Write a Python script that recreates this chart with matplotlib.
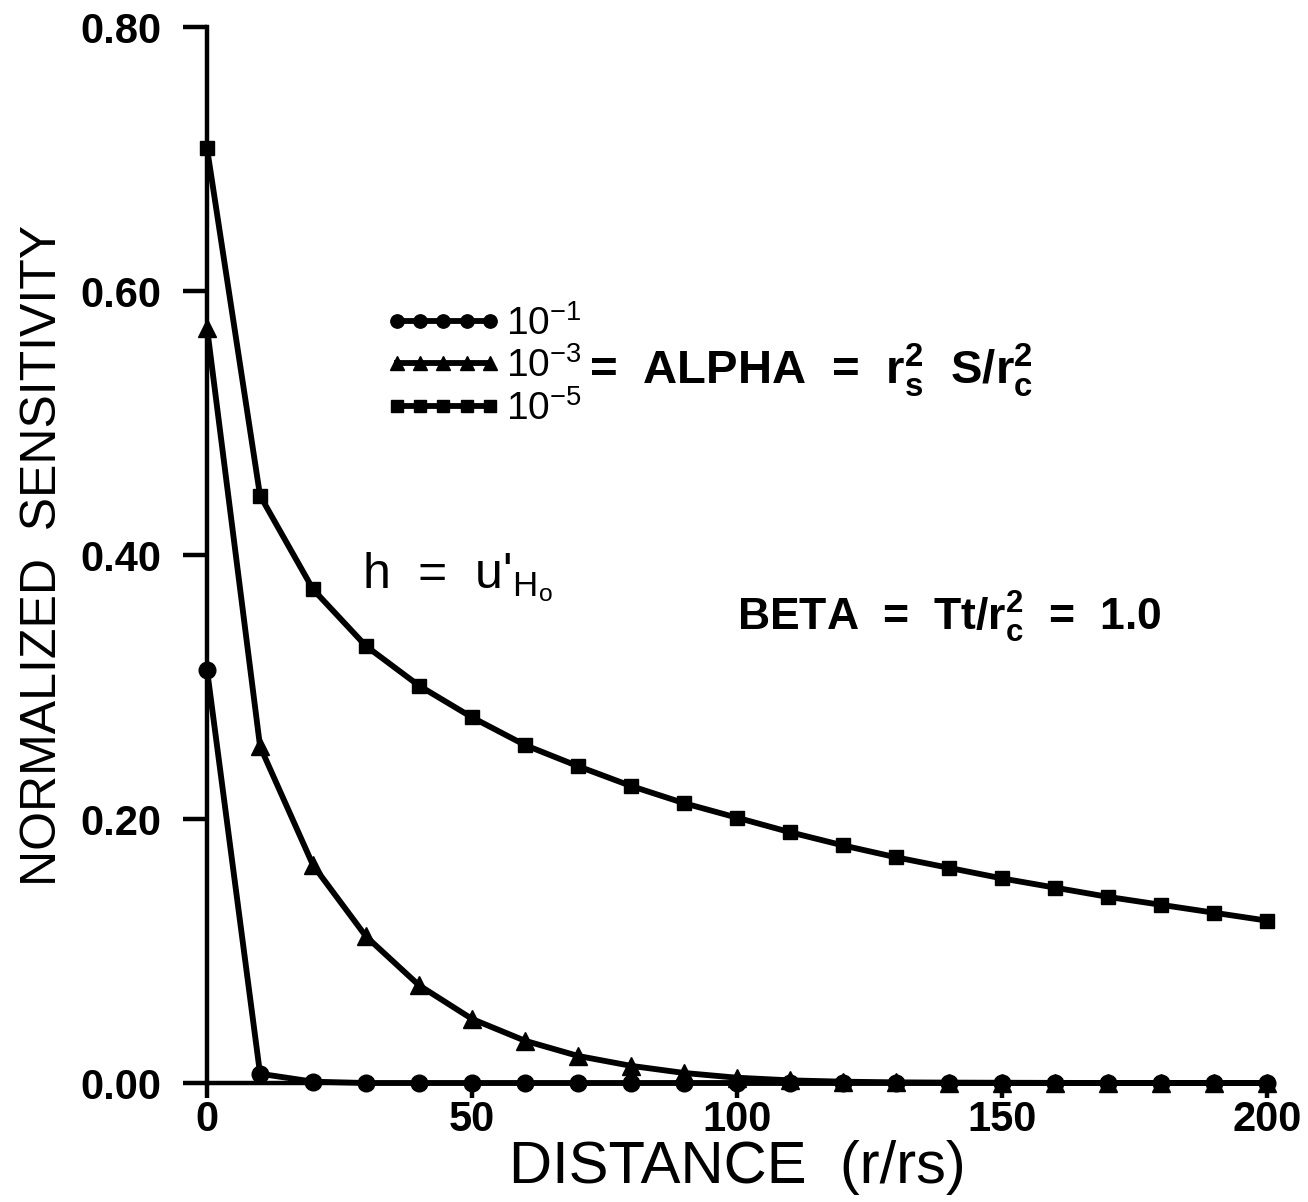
import matplotlib
matplotlib.use('Agg')
import matplotlib.pyplot as plt
import numpy as np

#----------------------------------------------------------------------------------------------------
# data
#----------------------------------------------------------------------------------------------------
distance = [0, 10, 20, 30, 40, 50, 60, 70, 80, 90, 100,
            110, 120, 130, 140, 150, 160, 170, 180, 190, 200]

# alpha = 1e-1 (circles)
sens_a1 = [0.313, 0.007, 0.001, 0.0, 0.0, 0.0, 0.0, 0.0, 0.0, 0.0, 0.0,
           0.0, 0.0, 0.0, 0.0, 0.0, 0.0, 0.0, 0.0, 0.0, 0.0]
# alpha = 1e-3 (triangles)
sens_a3 = [0.572, 0.255, 0.165, 0.111, 0.074, 0.0485, 0.032, 0.0205, 0.0130, 0.0076, 0.0040,
           0.002, 0.001, 0.0005, 0.0003, 0.0002, 0.0001, 0.0, 0.0, 0.0, 0.0]
# alpha = 1e-5 (squares)
sens_a5 = [0.708, 0.445, 0.374, 0.331, 0.301, 0.277, 0.256, 0.240, 0.225, 0.212, 0.201,
           0.190, 0.180, 0.171, 0.163, 0.155, 0.148, 0.141, 0.135, 0.129, 0.123]

series_labels = [r'$10^{-1}$', r'$10^{-3}$', r'$10^{-5}$']
xticks = [0, 50, 100, 150, 200]
yticks = [0.0, 0.2, 0.4, 0.6, 0.8]

#----------------------------------------------------------------------------------------------------
# style
#----------------------------------------------------------------------------------------------------
plt.rcParams['font.family'] = ['Liberation Sans', 'DejaVu Sans']
plt.rcParams['mathtext.fontset'] = 'custom'
plt.rcParams['mathtext.rm'] = 'Liberation Sans'
plt.rcParams['mathtext.it'] = 'Liberation Sans'
plt.rcParams['mathtext.bf'] = 'Liberation Sans:bold'

fig = plt.figure(figsize=(13.08, 12.02), dpi=100)
ax = fig.add_axes([0.1583, 0.0990, 0.8104, 0.8785])

lw = 4.2
ax.plot(distance, sens_a1, color='black', lw=lw, marker='o', ms=12, clip_on=False,
        label=series_labels[0])
ax.plot(distance, sens_a3, color='black', lw=lw, marker='^', ms=13, clip_on=False,
        label=series_labels[1])
ax.plot(distance, sens_a5, color='black', lw=lw, marker='s', ms=10.5, clip_on=False,
        label=series_labels[2])

# axes
ax.set_xlim(0, 200)
ax.set_ylim(0, 0.8)
ax.set_xticks(xticks)
ax.set_yticks(yticks)
ax.set_yticklabels(['%.2f' % v for v in yticks])
for side in ['top', 'right']:
    ax.spines[side].set_visible(False)
for side in ['left', 'bottom']:
    ax.spines[side].set_linewidth(3.2)
ax.tick_params(axis='y', direction='out', length=17, width=3.2, pad=16, labelsize=30)
ax.tick_params(axis='x', direction='out', length=11, width=3.2, pad=1, labelsize=30)
for lab in ax.get_xticklabels() + ax.get_yticklabels():
    lab.set_fontweight('bold')
ax.patch.set_visible(False)

ax.set_xlabel('DISTANCE  (r/rs)', fontsize=43, labelpad=0)
ax.set_ylabel('NORMALIZED  SENSITIVITY', fontsize=36, labelpad=10)

# legend + annotations
leg = ax.legend(loc='upper left', bbox_to_anchor=(0.168, 0.737), frameon=False,
                numpoints=5, handlelength=3.0, handletextpad=0.1, labelspacing=0.12,
                markerscale=0.8, borderpad=0, borderaxespad=0, fontsize=28)

ax.text(72.0, 0.540, r'=  ALPHA  =  r$_\mathbf{s}^\mathbf{2}$  S/r$_\mathbf{c}^\mathbf{2}$',
        fontsize=34, fontweight='bold', va='center')
ax.text(29.2, 0.375, r"h  =  u'$_{\mathrm{H}_\mathrm{o}}$", fontsize=36, va='baseline')
ax.text(100, 0.343, r'BETA  =  Tt/r$_\mathbf{c}^\mathbf{2}$  =  1.0',
        fontsize=32, fontweight='bold', va='baseline')

plt.savefig('out.png', dpi=100)
